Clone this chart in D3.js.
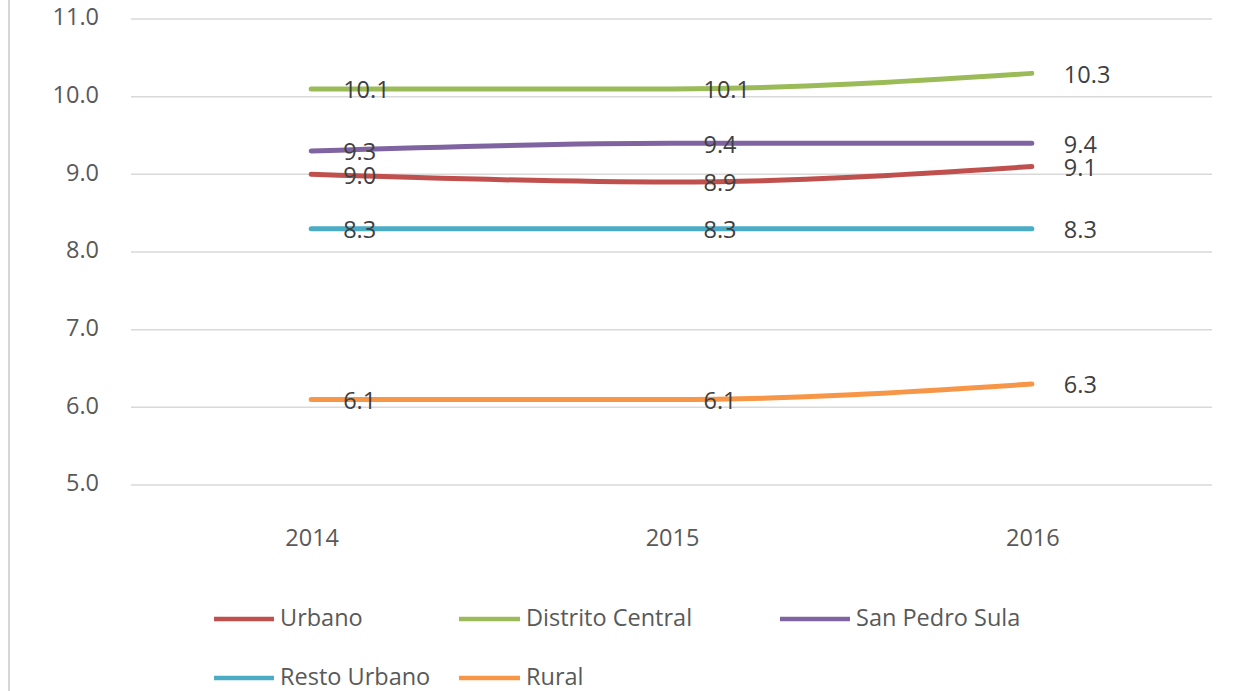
<!DOCTYPE html>
<html>
<head>
<meta charset="utf-8">
<script src="https://cdn.jsdelivr.net/npm/d3@7"></script>
<style>
  html, body { margin: 0; padding: 0; background: #fff; }
  svg { display: block; }
  text { font-family: "Open Sans", sans-serif; }
</style>
</head>
<body>
<svg id="chart" width="1247" height="691"></svg>
<script>
const years = ["2014", "2015", "2016"];
const yTicks = [5, 6, 7, 8, 9, 10, 11];
const seriesNames = ["Urbano", "Distrito Central", "San Pedro Sula", "Resto Urbano", "Rural"];
const urbano = [9.0, 8.9, 9.1];
const distritoCentral = [10.1, 10.1, 10.3];
const sanPedroSula = [9.3, 9.4, 9.4];
const restoUrbano = [8.3, 8.3, 8.3];
const rural = [6.1, 6.1, 6.3];
const colors = ["#c0504d", "#9bbb59", "#8064a2", "#4bacc6", "#f79646"];

const series = [urbano, distritoCentral, sanPedroSula, restoUrbano, rural].map((v, i) => ({
  name: seriesNames[i], values: v, color: colors[i]
}));

const svg = d3.select("#chart");
const plotLeft = 131, plotRight = 1212, plotTop = 19, plotBottom = 485;

const x = d3.scalePoint().domain(years).range([plotLeft, plotRight]).padding(0.5);
const y = d3.scaleLinear().domain([5, 11]).range([plotBottom, plotTop]);

// left border line
svg.append("line").attr("x1", 9).attr("x2", 9).attr("y1", 0).attr("y2", 691)
  .attr("stroke", "#c8c8c8").attr("stroke-width", 1.5);

// gridlines
svg.append("g").selectAll("line").data(yTicks).join("line")
  .attr("x1", plotLeft).attr("x2", plotRight)
  .attr("y1", d => y(d)).attr("y2", d => y(d))
  .attr("stroke", "#d9d9d9").attr("stroke-width", 1.5);

// y labels
svg.append("g").selectAll("text").data(yTicks).join("text")
  .attr("x", 99).attr("y", d => y(d))
  .attr("text-anchor", "end").attr("dominant-baseline", "middle")
  .attr("font-size", 23.5).attr("fill", "#595959")
  .text(d => d.toFixed(1));

// x labels
svg.append("g").selectAll("text").data(years).join("text")
  .attr("x", d => x(d) + 1).attr("y", 546)
  .attr("text-anchor", "middle")
  .attr("font-size", 23.5).attr("fill", "#595959")
  .text(d => d);

// lines
const line = d3.line()
  .x((d, i) => x(years[i]))
  .y(d => y(d))
  .curve(d3.curveMonotoneX);

svg.append("g").selectAll("path").data(series).join("path")
  .attr("d", d => line(d.values))
  .attr("fill", "none").attr("stroke", d => d.color)
  .attr("stroke-width", 5).attr("stroke-linecap", "round");

// data labels
const lbl = svg.append("g");
series.forEach(s => {
  lbl.selectAll(null).data(s.values).join("text")
    .attr("x", (d, i) => x(years[i]) + 32)
    .attr("y", d => y(d) + 3)
    .attr("dominant-baseline", "middle")
    .attr("font-size", 23.5).attr("fill", "#404040")
    .text(d => d.toFixed(1));
});

// legend
const legendPos = [
  {x: 214, y: 619, tx: 280}, {x: 459, y: 619, tx: 526}, {x: 780, y: 619, tx: 856},
  {x: 214, y: 678, tx: 280}, {x: 459, y: 678, tx: 526}
];
const lg = svg.append("g");
series.forEach((s, i) => {
  const p = legendPos[i];
  lg.append("line").attr("x1", p.x).attr("x2", p.tx - 6)
    .attr("y1", p.y).attr("y2", p.y)
    .attr("stroke", s.color).attr("stroke-width", 4.5);
  lg.append("text").attr("x", p.tx).attr("y", p.y + 1)
    .attr("dominant-baseline", "middle")
    .attr("font-size", 23.5).attr("fill", "#595959")
    .text(s.name);
});
</script>
</body>
</html>
